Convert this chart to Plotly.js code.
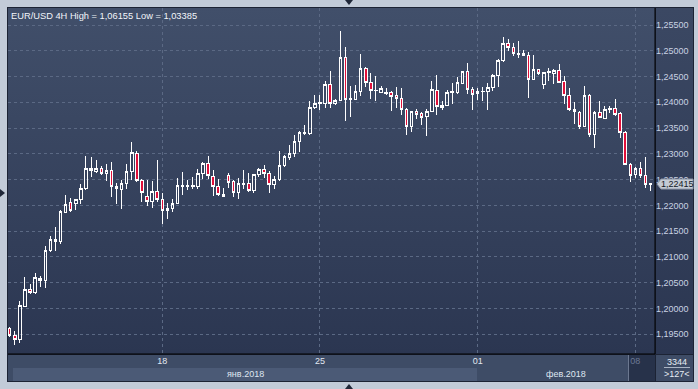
<!DOCTYPE html>
<html><head><meta charset="utf-8">
<script src="https://cdn.plot.ly/plotly-3.0.1.min.js"></script>
<style>
html,body{margin:0;padding:0;background:#c2cbd8;width:698px;height:389px;overflow:hidden}
#wrap{position:relative;width:698px;height:389px}
.bg{position:absolute}
#chart{position:absolute;left:0;top:0;width:698px;height:389px}
#chart .boxlayer path{shape-rendering:crispEdges}
</style></head><body>
<div id="wrap">
  <div class="bg" style="left:7px;top:7px;width:687px;height:375px;background:#1c2334"></div>
  <div class="bg" style="left:8px;top:8px;width:647px;height:346px;background:linear-gradient(#414f6a,#2b3651)"></div>
  <div class="bg" style="left:656px;top:8px;width:37px;height:346px;background:linear-gradient(#3b4863,#2b3651)"></div>
  <div class="bg" style="left:8px;top:355px;width:647px;height:26px;background:#3e4c66"></div>
  <div class="bg" style="left:13px;top:368px;width:464px;height:13px;background:#4b5a76"></div>
  <div class="bg" style="left:628px;top:355px;width:27px;height:26px;background:#27324a;border-left:1px solid #6c7890;box-sizing:border-box"></div>
  <div class="bg" style="left:656px;top:355px;width:37px;height:26px;background:#3e4c66"></div>
  <div class="bg" style="left:664px;top:367px;width:26px;height:1px;background:#aab4c4"></div>
  <div class="bg" style="left:345px;top:0px;width:0;height:0;border-left:4px solid transparent;border-right:4px solid transparent;border-top:5px solid #1f2738"></div>
  <div class="bg" style="left:345px;top:384px;width:0;height:0;border-left:4px solid transparent;border-right:4px solid transparent;border-bottom:5px solid #1f2738"></div>
  <div class="bg" style="left:0px;top:189px;width:0;height:0;border-top:4px solid transparent;border-bottom:4px solid transparent;border-left:5px solid #1f2738"></div>
  <div id="chart"></div>
</div>
<script>
// ---- data (EUR/USD 4H candles) ----
const openP = [1.19614,1.19485,1.19401,1.20046,1.20368,1.20304,1.20581,1.20536,1.21117,1.21310,
1.21310,1.21871,1.22052,1.22045,1.22110,1.22323,1.22710,1.22652,1.22710,1.22626,
1.22671,1.22361,1.22312,1.22429,1.22663,1.23013,1.22481,1.22176,1.22078,1.22280,
1.22117,1.21942,1.21942,1.22039,1.22377,1.22377,1.22377,1.22377,1.22624,1.22818,
1.22559,1.22364,1.22215,1.22588,1.22459,1.22246,1.22407,1.22420,1.22284,1.22594,
1.22691,1.22614,1.22401,1.22497,1.22768,1.22923,1.23000,1.23239,1.23388,1.23388,
1.23891,1.23981,1.23987,1.24355,1.23968,1.24045,1.24877,1.24058,1.24058,1.24213,
1.24665,1.24394,1.24226,1.24194,1.24162,1.24194,1.24129,1.24065,1.23852,1.23523,
1.23826,1.23781,1.23716,1.23826,1.24239,1.23903,1.23942,1.24189,1.24189,1.24370,
1.24604,1.24254,1.24163,1.24202,1.24215,1.24293,1.24526,1.24812,1.25149,1.25071,
1.24942,1.24942,1.24916,1.24448,1.24630,1.24338,1.24578,1.24564,1.24609,1.24397,
1.24141,1.23853,1.23808,1.23538,1.24141,1.23372,1.23795,1.23692,1.23859,1.23872,
1.23776,1.23410,1.22795,1.22603,1.22718,1.22577,1.22420];
const highP = [1.19640,1.19556,1.20149,1.20607,1.20484,1.20684,1.20633,1.21207,1.21400,1.21575,
1.21904,1.22194,1.22136,1.22120,1.22420,1.22968,1.22942,1.22890,1.22761,1.22813,
1.22852,1.22426,1.22494,1.22799,1.23234,1.23058,1.22520,1.22494,1.22468,1.22877,
1.22234,1.22052,1.22130,1.22539,1.22643,1.22494,1.22559,1.22701,1.22844,1.22961,
1.22688,1.22507,1.22332,1.22620,1.22497,1.22530,1.22684,1.22620,1.22614,1.22730,
1.22775,1.22665,1.22568,1.23065,1.22975,1.23181,1.23375,1.23452,1.23568,1.24033,
1.24149,1.24136,1.24407,1.24613,1.24058,1.25387,1.25077,1.24316,1.24336,1.24935,
1.24678,1.24568,1.24503,1.24323,1.24278,1.24213,1.24297,1.24278,1.23891,1.23839,
1.23871,1.23813,1.23871,1.24407,1.24536,1.24033,1.24241,1.24370,1.24500,1.24617,
1.24760,1.24306,1.24273,1.24306,1.24370,1.24552,1.24838,1.25266,1.25227,1.25149,
1.25182,1.25006,1.24981,1.24922,1.24643,1.24591,1.24673,1.24654,1.24737,1.24513,
1.24276,1.24000,1.23840,1.24321,1.24160,1.23840,1.24032,1.23936,1.23936,1.24064,
1.23808,1.23436,1.22814,1.22750,1.22846,1.22942,1.22430];
const lowP = [1.19453,1.19291,1.19330,1.20027,1.20278,1.20291,1.20420,1.20394,1.21104,1.21117,
1.21252,1.21850,1.21871,1.21910,1.22020,1.22297,1.22555,1.22632,1.22600,1.22471,
1.22162,1.22020,1.21936,1.22312,1.22494,1.22461,1.22072,1.21988,1.21955,1.22072,
1.21644,1.21728,1.21864,1.22026,1.22202,1.22299,1.22312,1.22312,1.22507,1.22507,
1.22189,1.22189,1.22156,1.22343,1.22162,1.22123,1.22310,1.22270,1.22246,1.22549,
1.22523,1.22246,1.22317,1.22472,1.22743,1.22891,1.22936,1.23033,1.23368,1.23375,
1.23878,1.23858,1.23891,1.23891,1.23942,1.24020,1.23633,1.23716,1.24045,1.24116,
1.24297,1.24058,1.24033,1.24174,1.24149,1.23839,1.23891,1.23762,1.23375,1.23426,
1.23678,1.23568,1.23342,1.23813,1.23760,1.23851,1.23929,1.23968,1.24163,1.24357,
1.24163,1.23851,1.24046,1.24033,1.23851,1.24228,1.24306,1.24792,1.24987,1.24890,
1.24857,1.24890,1.24078,1.24440,1.24533,1.24254,1.24417,1.24353,1.24372,1.23968,
1.23840,1.23583,1.23487,1.23519,1.23327,1.23115,1.23690,1.23679,1.23795,1.23744,
1.23308,1.22782,1.22449,1.22526,1.22526,1.22346,1.22280];
const closeP = [1.19472,1.19394,1.20059,1.20368,1.20304,1.20601,1.20536,1.21117,1.21336,1.21336,
1.21878,1.22013,1.21910,1.22110,1.22323,1.22710,1.22671,1.22710,1.22626,1.22671,
1.22361,1.22323,1.22429,1.22663,1.23032,1.22481,1.22254,1.22078,1.22280,1.22111,
1.21903,1.21903,1.22039,1.22390,1.22390,1.22390,1.22390,1.22624,1.22818,1.22572,
1.22377,1.22215,1.22182,1.22439,1.22246,1.22426,1.22420,1.22284,1.22594,1.22691,
1.22614,1.22401,1.22504,1.22768,1.22949,1.23000,1.23239,1.23413,1.23413,1.23891,
1.23987,1.23994,1.24355,1.23968,1.24045,1.24877,1.24058,1.24071,1.24213,1.24665,
1.24394,1.24226,1.24239,1.24278,1.24194,1.24116,1.24071,1.23858,1.23523,1.23813,
1.23762,1.23697,1.23826,1.24245,1.23916,1.23942,1.24189,1.24202,1.24383,1.24604,
1.24254,1.24156,1.24202,1.24215,1.24293,1.24526,1.24812,1.25149,1.25071,1.24942,
1.24929,1.24903,1.24448,1.24630,1.24565,1.24578,1.24590,1.24609,1.24385,1.24141,
1.23853,1.23821,1.23538,1.24141,1.23372,1.23795,1.23705,1.23859,1.23885,1.23756,
1.23410,1.22795,1.22583,1.22718,1.22590,1.22398,1.22415];

// x-axis: bar index of each date tick, and its label
const dateTickBars = [30, 61, 92, 123];
const dateTickLabels = ['18', '25', '01', '08'];
const monthLabels = ['янв.2018', 'фев.2018'];
const monthStartBars = [0, 92];

// y-axis ticks
const priceTicks = [1.195,1.200,1.205,1.210,1.215,1.220,1.225,1.230,1.235,1.240,1.245,1.250,1.255];
const priceTickLabels = ['1,19500','1,20000','1,20500','1,21000','1,21500','1,22000','1,22500','1,23000','1,23500','1,24000','1,24500','1,25000','1,25500'];

const titleText = 'EUR/USD 4H High = 1,06155 Low = 1,03385';
const barsTotal = '3344';
const barsVisible = '>127<';

// ---- chart ----
const idx = openP.map((_, i) => i);
const xr = [-0.33, 126.86];
const lastClose = closeP[closeP.length - 1];
const fmt = v => v.toFixed(5).replace('.', ',');

const tickText = dateTickLabels.map((t, i) =>
  i === dateTickLabels.length - 1 ? '<span style="color:#6c7894">' + t + '</span>' : t);

const monthEnds = monthStartBars.slice(1).concat([xr[1]]);
const monthAnn = monthLabels.map((m, i) => ({
  text: m, xref: 'x', yref: 'paper',
  x: (Math.max(monthStartBars[i], 0.65) + monthEnds[i]) / 2,
  y: -0.057, xanchor: 'center', yanchor: 'middle', showarrow: false,
  font: {size: 9, color: '#dfe6f0'}
}));

const trace = {
  type: 'candlestick', x: idx, open: openP, high: highP, low: lowP, close: closeP,
  increasing: {line: {color: '#ffffff', width: 1}, fillcolor: 'rgba(0,0,0,0)'},
  decreasing: {line: {color: '#ffffff', width: 1}, fillcolor: '#e0103a'},
  whiskerwidth: 0, hoverinfo: 'skip'
};

const layout = {
  width: 698, height: 389,
  margin: {l: 8, r: 43, t: 8, b: 35, pad: 0},
  paper_bgcolor: 'rgba(0,0,0,0)', plot_bgcolor: 'rgba(0,0,0,0)',
  showlegend: false, boxgap: 0.3,
  font: {family: 'Liberation Sans, Arial, sans-serif', size: 9, color: '#e2e8f1'},
  xaxis: {
    range: xr, tickmode: 'array', tickvals: dateTickBars, ticktext: tickText,
    showgrid: true, gridcolor: '#5b6984', griddash: '3px,3px', gridwidth: 1,
    ticks: '', zeroline: false, showline: false, fixedrange: true,
    rangeslider: {visible: false}, tickfont: {size: 9, color: '#e2e8f1'}
  },
  yaxis: {
    side: 'right', range: [1.19118, 1.25830], tickmode: 'array',
    tickvals: priceTicks, ticktext: priceTickLabels,
    showgrid: true, gridcolor: '#5b6984', griddash: '3px,3px', gridwidth: 1,
    ticks: '', zeroline: false, showline: false, fixedrange: true,
    tickfont: {size: 9, color: '#c9d3e3'}
  },
  shapes: [
    {type: 'line', xref: 'paper', yref: 'paper', x0: 1, x1: 1, y0: 0, y1: 1,
     line: {color: '#000000', width: 1}, layer: 'above'},
    {type: 'line', xref: 'paper', yref: 'paper', x0: 0, x1: 1, y0: 0, y1: 0,
     line: {color: '#000000', width: 1}, layer: 'above'},
    {type: 'path', xref: 'paper', yref: 'y', xsizemode: 'pixel', ysizemode: 'pixel',
     xanchor: 1, yanchor: lastClose, path: 'M2,0L6,5L38,5L38,-5L6,-5Z',
     fillcolor: '#c4cbd5', line: {color: '#8d97a7', width: 1}, layer: 'above'}
  ],
  annotations: [
    {text: titleText, xref: 'paper', yref: 'paper', x: 0.003, y: 1, xanchor: 'left', yanchor: 'top',
     showarrow: false, borderpad: 0, yshift: -2, font: {size: 9.3, color: '#f2f5fa'}},
    {text: fmt(lastClose), xref: 'paper', yref: 'y', x: 1, y: lastClose, xanchor: 'center', yanchor: 'middle',
     xshift: 22, showarrow: false, borderpad: 0, font: {size: 9, color: '#141a26'}},
    {text: barsTotal, xref: 'paper', yref: 'paper', x: 1, y: -0.022, xanchor: 'center', yanchor: 'middle',
     xshift: 22, showarrow: false, font: {size: 9, color: '#e6ecf4'}},
    {text: barsVisible, xref: 'paper', yref: 'paper', x: 1, y: -0.057, xanchor: 'center', yanchor: 'middle',
     xshift: 22, showarrow: false, font: {size: 9, color: '#e6ecf4'}}
  ].concat(monthAnn)
};

Plotly.newPlot('chart', [trace], layout, {staticPlot: true, displayModeBar: false});
</script>
</body></html>
